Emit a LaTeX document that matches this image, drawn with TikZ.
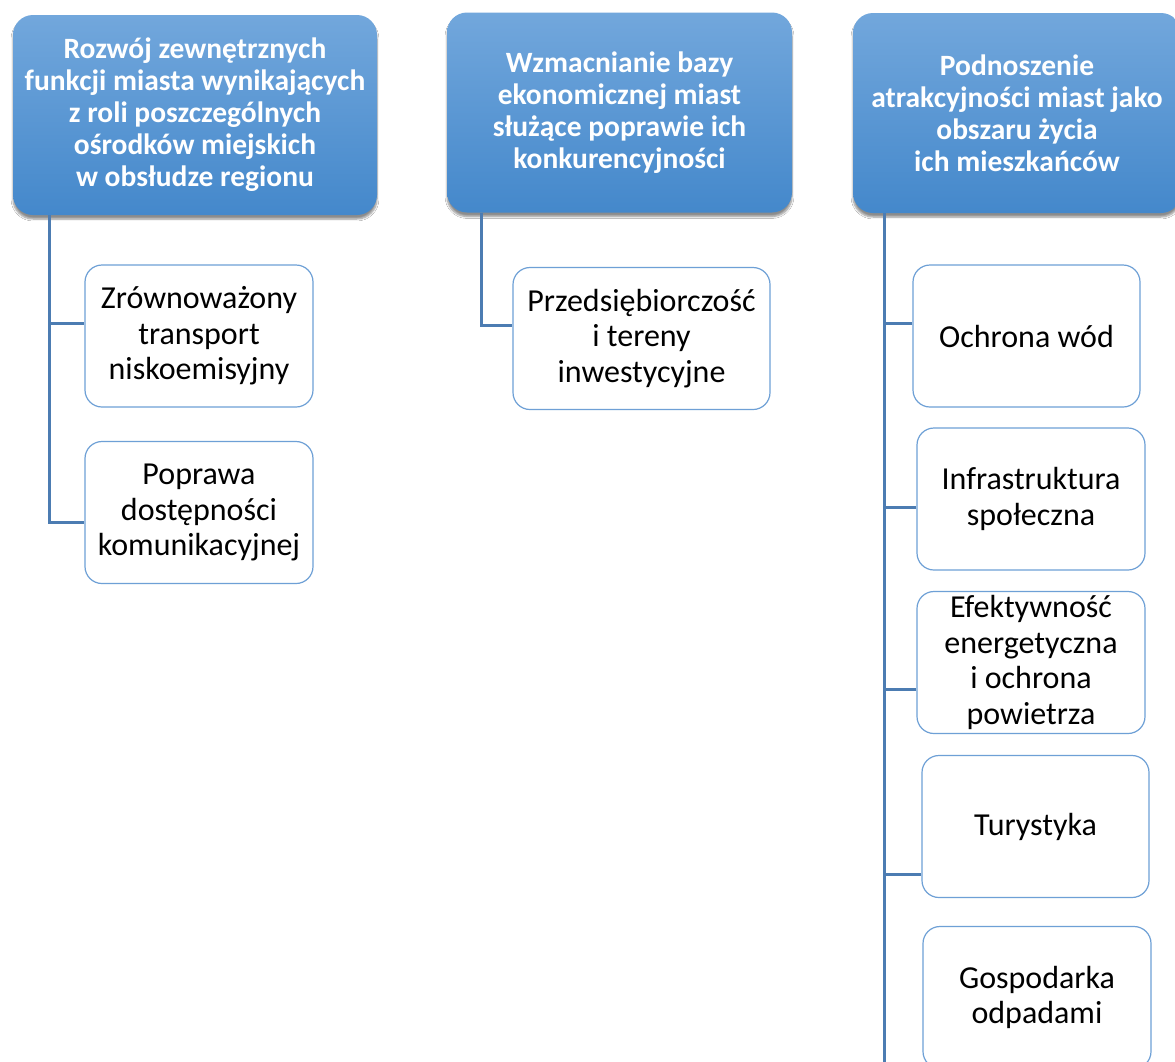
\documentclass[tikz,border=0pt]{standalone}
\usepackage{fontspec}
\setmainfont{Carlito}
\usetikzlibrary{shadows.blur}
\definecolor{head top}{RGB}{114,167,220}
\definecolor{head bottom}{RGB}{68,136,203}
\definecolor{sub edge}{RGB}{110,160,214}
\definecolor{link line}{RGB}{76,124,178}
\tikzset{
  topbox/.style={rounded corners=20pt, top color=head top, bottom color=head bottom,
    draw=none, text=white, font=\fontsize{29.5}{32}\selectfont\bfseries, align=center,
    minimum height=200pt, inner sep=0pt,
    blur shadow={shadow xshift=0pt, shadow yshift=-4pt, shadow blur steps=6, shadow opacity=45}},
  subbox/.style={rounded corners=17pt, draw=sub edge, line width=1.2pt, fill=white,
    font=\fontsize{32}{35.5}\selectfont, align=center,
    minimum width=228pt, minimum height=142pt, inner sep=0pt},
  link/.style={draw=link line, line width=3pt}
}
\begin{document}
\begin{tikzpicture}[x=1pt, y=-1pt]
    \useasboundingbox[fill=white] (0,0) rectangle (1175,1061);
    % headers
    \node[topbox, minimum width=364pt] (h1) at (195,115)
      {Rozwój zewnętrznych\\funkcji miasta wynikających\\z roli poszczególnych\\ośrodków miejskich\\w obsłudze regionu};
    \node[topbox, minimum width=345pt] (h2) at (619.5,112.5)
      {Wzmacnianie bazy\\ekonomicznej miast\\służące poprawie ich\\konkurencyjności};
    \node[topbox, minimum width=328pt] (h3) at (1017,113)
      {Podnoszenie\\atrakcyjności miast jako\\obszaru życia\\ich mieszkańców};
    % first column
    \node[subbox] (z1) at (199,336) {Zrównoważony\\transport\\niskoemisyjny};
    \node[subbox] (z2) at (199,512.5) {Poprawa\\dostępności\\komunikacyjnej};
    \coordinate (s1) at ([xshift=37pt]h1.south west);
    \draw[link] (s1) |- ([yshift=-10pt]z2.west);
    \draw[link] (s1) |- ([yshift=13pt]z1.west);
    % second column
    \node[subbox, minimum width=257pt] (p) at (641.5,338.5) {Przedsiębiorczość\\i tereny\\inwestycyjne};
    \coordinate (s2) at ([xshift=35pt]h2.south west);
    \draw[link] (s2) |- ([yshift=13pt]p.west);
    % third column
    \node[subbox, minimum width=227pt] (o) at (1026.5,336) {Ochrona wód};
    \node[subbox] (i) at (1031,499) {Infrastruktura\\społeczna};
    \node[subbox] (e) at (1031,662.5) {Efektywność\\energetyczna\\i ochrona\\powietrza};
    \node[subbox, minimum width=227pt] (t) at (1035.5,826.5) {Turystyka};
    \node[subbox] (g) at (1037,997.5) {Gospodarka\\odpadami};
    \coordinate (s3) at ([xshift=32pt]h3.south west);
    \draw[link] (s3) |- ([yshift=-68pt]g.west);
    \foreach \n/\d in {o/13, i/-8, e/-27, t/-48}
      \draw[link] ([yshift=\d pt]\n.west) coordinate (b) -- (b -| s3);
\end{tikzpicture}
\end{document}
